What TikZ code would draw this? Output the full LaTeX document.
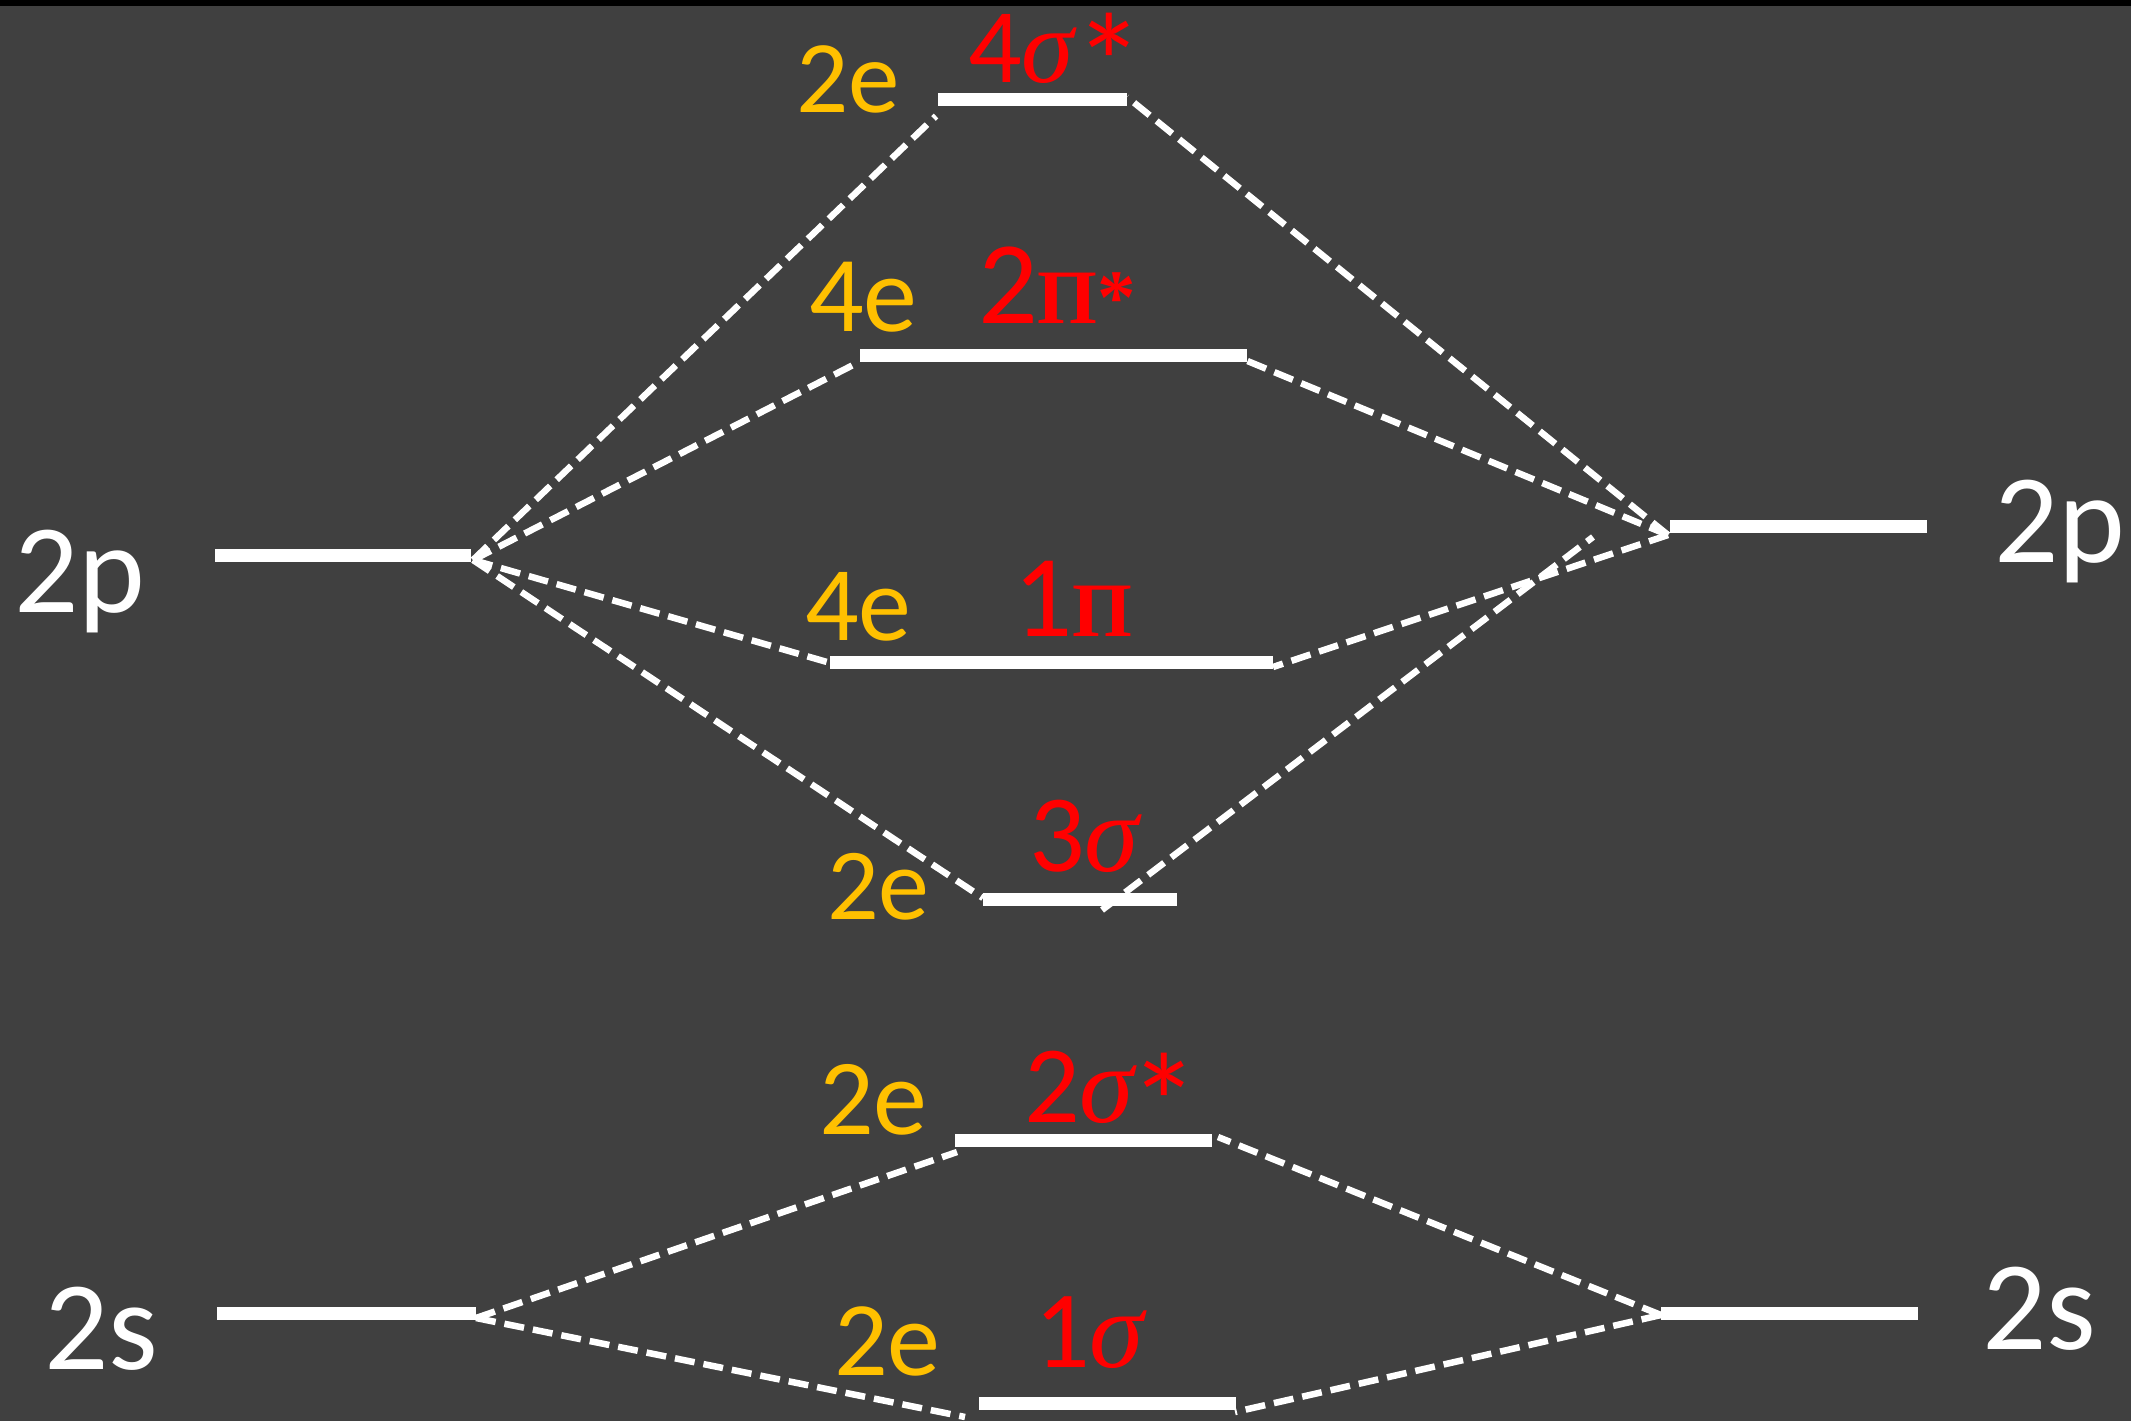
\documentclass[tikz,border=0pt]{standalone}
\usepackage{fontspec}
\setmainfont{Carlito}
\newfontfamily\sigfont{Liberation Serif}[UprightFont=* Italic]
\newfontfamily\pifont{Liberation Serif}[UprightFont=* Bold]
\definecolor{bg}{HTML}{404040}
\definecolor{orb}{HTML}{FFC000}
\definecolor{redl}{HTML}{FF0000}
\newcommand{\fs}[1]{\fontsize{#1}{#1}\selectfont}
\newcommand{\sig}{{\sigfont\char"03C3}}
\newcommand{\bigast}{{\fs{140}\raisebox{-30pt}{*}}}
\begin{document}
\begin{tikzpicture}[x=1pt,y=-1pt,
  level/.style={draw=white,line width=13pt},
  conn/.style={draw=white,line width=6.5pt,dash pattern=on 20pt off 9pt},
  lab/.style={anchor=base west,inner sep=0pt,outer sep=0pt},
  atom/.style={lab,text=white,font=\fs{127}},
  elec/.style={lab,text=orb},
  orb/.style={lab,text=redl}]
\useasboundingbox (0,0) rectangle (2131,1421);
\fill[bg] (0,0) rectangle (2131,1421);
\fill[black] (0,0) rectangle (2131,6);
% level ends
\coordinate (Lp1) at (215,555); \coordinate (Lp2) at (471,555);
\coordinate (Rp1) at (1670,526); \coordinate (Rp2) at (1927,526);
\coordinate (a1) at (938,99);  \coordinate (a2) at (1127,99);
\coordinate (b1) at (860,355); \coordinate (b2) at (1247,355);
\coordinate (c1) at (830,662); \coordinate (c2) at (1273,662);
\coordinate (d1) at (983,899); \coordinate (d2) at (1177,899);
\coordinate (e1) at (955,1140); \coordinate (e2) at (1212,1140);
\coordinate (f1) at (979,1403); \coordinate (f2) at (1236,1403);
\coordinate (Ls1) at (217,1313); \coordinate (Ls2) at (476,1313);
\coordinate (Rs1) at (1661,1313); \coordinate (Rs2) at (1918,1313);
% connector ends
\coordinate (LpC) at (473,560); \coordinate (RpC) at (1668,535);
\coordinate (aL) at (936,116); \coordinate (aR) at (1127,97);
\coordinate (bL) at (857,363); \coordinate (bR) at (1245,360);
\coordinate (cL) at (827,662); \coordinate (cR) at (1273,667);
\coordinate (dL) at (983,898); \coordinate (dM) at (1102,910);
\coordinate (dT) at (1593,537);
\coordinate (eL) at (957,1152); \coordinate (eR) at (1218,1137);
\coordinate (fL) at (965,1417); \coordinate (fR) at (1235,1412);
\coordinate (LsC) at (476,1318); \coordinate (RsC) at (1661,1315);
% connectors
\draw[conn] (LpC) -- (aL);
\draw[conn] (LpC) -- (bL);
\draw[conn] (LpC) -- (cL);
\draw[conn] (LpC) -- (dL);
\draw[conn] (RpC) -- (aR);
\draw[conn] (RpC) -- (bR);
\draw[conn] (RpC) -- (cR);
\draw[conn] (dM) -- (dT);
\draw[conn] (LsC) -- (eL);
\draw[conn] (LsC) -- (fL);
\draw[conn] (RsC) -- (eR);
\draw[conn] (RsC) -- (fR);
% levels
\draw[level] (Lp1) -- (Lp2);
\draw[level] (Rp1) -- (Rp2);
\draw[level] (a1) -- (a2);
\draw[level] (b1) -- (b2);
\draw[level] (c1) -- (c2);
\draw[level] (d1) -- (d2);
\draw[level] (e1) -- (e2);
\draw[level] (f1) -- (f2);
\draw[level] (Ls1) -- (Ls2);
\draw[level] (Rs1) -- (Rs2);
% atom labels
\node[atom] (tLp) at (14,612) {2p};
\node[atom] (tRp) at (1994,562) {2p};
\node[atom] (tLs) at (44,1369) {2s};
\node[atom] (tRs) at (1982,1349) {2s};
% electron counts
\node[elec,font=\fs{103}] (ea) at (796,112) {2e};
\node[elec,font=\fs{108}] (eb) at (809,331) {4e};
\node[elec,font=\fs{106}] (ec) at (805,640) {4e};
\node[elec,font=\fs{102}] (ed) at (827,919) {2e};
\node[elec,font=\fs{108}] (ee) at (819,1134) {2e};
\node[elec,font=\fs{106}] (ef) at (834,1375) {2e};
% orbital labels
\node[orb,font=\fs{106}] (oa) at (968,82) {4\sig\kern0pt\bigast};
\node[orb,font=\fs{118}] (ob) at (978,323) {2{\pifont\fs{77}\char"03A0*}};
\node[orb,font=\fs{117}] (oc) at (1013,636) {1{\pifont\fs{77}\char"03A0}};
\node[orb,font=\fs{110}] (od) at (1029,871) {3\sig};
\node[orb,font=\fs{110}] (oe) at (1024,1122) {2\sig\kern-5pt\bigast};
\node[orb,font=\fs{110}] (of) at (1034,1367) {1\sig};
\end{tikzpicture}
\end{document}
